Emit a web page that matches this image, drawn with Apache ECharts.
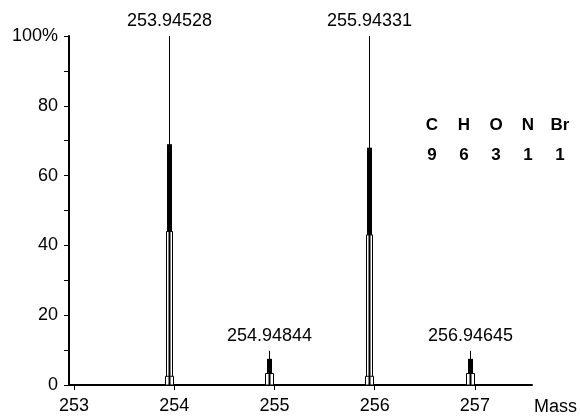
<!DOCTYPE html>
<html>
<head>
<meta charset="utf-8">
<script src="https://cdn.jsdelivr.net/npm/echarts@6/dist/echarts.min.js"></script>
<style>html,body{margin:0;padding:0;background:#fff}#c{width:580px;height:416px}</style>
</head>
<body>
<div id="c"></div>
<script>
// ---- data ----
const peakMass      = [253.94528, 254.94844, 255.94331, 256.94645];
const peakIntensity = [100, 9.8, 100, 9.8];
const blockLow      = [44, 3.3, 43, 3.3];   // bottom of the dense (black) part
const blockHigh     = [69, 7.5, 68, 7.5];   // top of the dense (black) part
const footHeight    = [2.5, 3.3, 2.5, 3.3]; // small boxes at the base
const xTicks = [253, 254, 255, 256, 257];
const yTicks = [0, 20, 40, 60, 80, 100];
const formulaElements = ['C', 'H', 'O', 'N', 'Br'];
const formulaCounts   = [9, 6, 3, 1, 1];

const FONT = '"Liberation Sans", Arial, sans-serif';
const data = peakMass.map((m, i) => [m, peakIntensity[i], blockLow[i], blockHigh[i], footHeight[i]]);

function renderItem(params, api) {
  const m = api.value(0), h = api.value(1), lo = api.value(2), hi = api.value(3), ft = api.value(4);
  const base = api.coord([m, 0]);
  const x = Math.round(base[0]) + 0.5;
  const y0 = base[1];
  const yH = api.coord([m, h])[1];
  const yLo = api.coord([m, lo])[1];
  const yHi = api.coord([m, hi])[1];
  const yFt = api.coord([m, ft])[1];
  const st = { stroke: '#000', lineWidth: 1, fill: '#fff' };
  return {
    type: 'group',
    children: [
      { type: 'line', shape: { x1: x, y1: y0, x2: x, y2: yH }, style: { stroke: '#000', lineWidth: 1 } },
      { type: 'rect', shape: { x: x - 3, y: yLo, width: 2.5, height: y0 - yLo }, style: st },
      { type: 'rect', shape: { x: x + 0.5, y: yLo, width: 2.5, height: y0 - yLo }, style: st },
      { type: 'rect', shape: { x: x - 4, y: yFt, width: 3.5, height: y0 - yFt }, style: st },
      { type: 'rect', shape: { x: x + 0.5, y: yFt, width: 3.5, height: y0 - yFt }, style: st },
      { type: 'rect', shape: { x: x - 2.5, y: yHi, width: 5, height: yLo - yHi }, style: { fill: '#000' } },
      { type: 'text', style: { text: m.toFixed(5), x: x, y: yH - 6, align: 'center', verticalAlign: 'bottom',
          font: '18px ' + FONT, fill: '#000' } }
    ]
  };
}

const graphics = [];
formulaElements.forEach((e, i) => {
  const cx = 432 + i * 32;
  graphics.push({ type: 'text', style: { text: e, x: cx, y: 125, align: 'center', verticalAlign: 'middle',
    font: 'bold 17px ' + FONT, fill: '#000' } });
  graphics.push({ type: 'text', style: { text: String(formulaCounts[i]), x: cx, y: 155, align: 'center', verticalAlign: 'middle',
    font: 'bold 17px ' + FONT, fill: '#000' } });
});

const chart = echarts.init(document.getElementById('c'), null, { renderer: 'canvas' });
chart.setOption({
  backgroundColor: '#fff',
  animation: false,
  grid: { left: 69, right: 45, top: 36, bottom: 30, containLabel: false },
  xAxis: {
    type: 'value', min: 252.95, max: 257.57,
    axisLine: { lineStyle: { color: '#000', width: 2 } },
    axisTick: { show: true, length: 5, lineStyle: { color: '#000', width: 1 }, customValues: xTicks },
    axisLabel: { color: '#000', fontSize: 18, fontFamily: FONT, margin: 12, customValues: xTicks },
    splitLine: { show: false },
    name: 'Mass', nameLocation: 'end', nameGap: 2,
    nameTextStyle: { color: '#000', fontSize: 18, fontFamily: FONT, verticalAlign: 'top', align: 'left', padding: [13, 0, 0, 0] }
  },
  yAxis: {
    type: 'value', min: 0, max: 100, interval: 20,
    axisLine: { show: true, lineStyle: { color: '#000', width: 2 } },
    axisTick: { show: true, length: 5, lineStyle: { color: '#000', width: 1 } },
    minorTick: { show: true, splitNumber: 2, length: 5, lineStyle: { color: '#000', width: 1 } },
    axisLabel: { color: '#000', fontSize: 18, fontFamily: FONT, margin: 11,
      formatter: v => (v === 100 ? '100%' : String(v)) },
    splitLine: { show: false }
  },
  series: [{
    type: 'custom', renderItem: renderItem, data: data, clip: false,
    encode: { x: 0, y: 1 }
  }],
  graphic: graphics
});
</script>
</body>
</html>
